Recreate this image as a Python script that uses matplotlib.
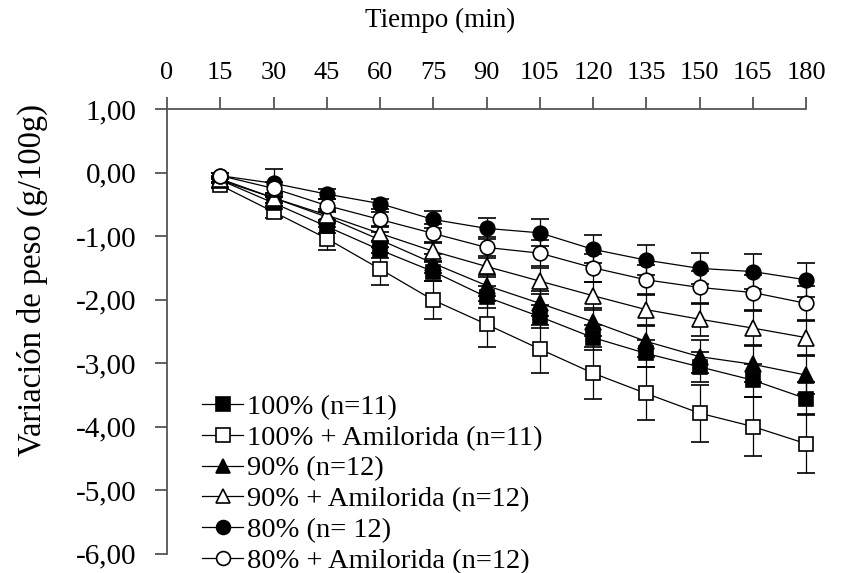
import matplotlib
matplotlib.use("Agg")
import matplotlib.pyplot as plt
from matplotlib.ticker import FuncFormatter
from matplotlib.lines import Line2D

plt.rcParams['font.family'] = ['Liberation Serif', 'DejaVu Serif']

tiempo = [15, 30, 45, 60, 75, 90, 105, 120, 135, 150, 165, 180]
x_ticks = [0, 15, 30, 45, 60, 75, 90, 105, 120, 135, 150, 165, 180]
y_ticks = [1, 0, -1, -2, -3, -4, -5, -6]

labels = ["100% (n=11)", "100% + Amilorida (n=11)", "90% (n=12)",
          "90% + Amilorida (n=12)", "80% (n= 12)", "80% + Amilorida (n=12)"]

p100 = [-0.12, -0.48, -0.85, -1.22, -1.56, -1.96, -2.27, -2.60, -2.85, -3.06, -3.27, -3.56]
p100_am = [-0.20, -0.62, -1.04, -1.52, -2.01, -2.39, -2.78, -3.16, -3.48, -3.79, -4.00, -4.27]
p90 = [-0.12, -0.40, -0.70, -1.06, -1.43, -1.78, -2.06, -2.35, -2.66, -2.90, -3.02, -3.19]
p90_am = [-0.10, -0.40, -0.67, -0.96, -1.24, -1.48, -1.71, -1.94, -2.16, -2.31, -2.45, -2.60]
p80 = [-0.05, -0.17, -0.34, -0.49, -0.74, -0.88, -0.95, -1.21, -1.38, -1.51, -1.56, -1.69]
p80_am = [-0.05, -0.25, -0.52, -0.74, -0.96, -1.18, -1.27, -1.50, -1.69, -1.81, -1.89, -2.06]

e100 = [0.05, 0.10, 0.10, 0.12, 0.15, 0.17, 0.18, 0.20, 0.22, 0.24, 0.26, 0.26]
e100_am = [0.05, 0.10, 0.18, 0.25, 0.30, 0.36, 0.38, 0.41, 0.42, 0.45, 0.46, 0.46]
e90 = [0.05, 0.08, 0.10, 0.12, 0.15, 0.17, 0.20, 0.22, 0.24, 0.26, 0.28, 0.30]
e90_am = [0.05, 0.08, 0.10, 0.12, 0.15, 0.17, 0.20, 0.22, 0.24, 0.26, 0.27, 0.27]
e80 = [0.05, 0.22, 0.08, 0.08, 0.13, 0.17, 0.21, 0.22, 0.24, 0.25, 0.27, 0.27]
e80_am = [0.05, 0.10, 0.10, 0.12, 0.15, 0.17, 0.20, 0.22, 0.24, 0.26, 0.27, 0.28]

series = [
    (p100, e100, 's', 'black', 4),
    (p100_am, e100_am, 's', 'white', 3),
    (p90, e90, '^', 'black', 5),
    (p90_am, e90_am, '^', 'white', 6),
    (p80, e80, 'o', 'black', 7),
    (p80_am, e80_am, 'o', 'white', 8),
]

fig = plt.figure(figsize=(8.41, 5.73), dpi=100)
ax = fig.add_axes([167/841, 1-553.5/573, (806-167)/841, (553.5-109)/573])

handles = []
for (vals, errs, mk, fc, z), lab in zip(series, labels):
    ms = 10.5 if mk != '^' else 11
    eb = ax.errorbar(tiempo, vals, yerr=errs, fmt='-', color='black', lw=0.9,
                     marker=mk, markersize=ms,
                     markerfacecolor=fc, markeredgecolor='black', markeredgewidth=1.2,
                     ecolor='black', elinewidth=0.9, capsize=6.5, capthick=0.9,
                     zorder=z)
    eb[0].set_clip_on(False)
    for c in eb[1]:
        c.set_clip_on(False)
    for b in eb[2]:
        b.set_clip_on(False)
    handles.append(Line2D([], [], color='black', lw=0.9, marker=mk,
                          markersize=ms * 0.95, markerfacecolor=fc,
                          markeredgecolor='black', markeredgewidth=1.2))

ax.set_xlim(0, 180)
ax.set_ylim(-6, 1)
ax.set_xticks(x_ticks)
ax.set_yticks(y_ticks)
ax.yaxis.set_major_formatter(FuncFormatter(lambda v, p: f"{abs(v):.2f}".replace('.', ',') if abs(v) < 1e-9 else f"{v:.2f}".replace('.', ',')))

ax.xaxis.tick_top()
ax.xaxis.set_label_position('top')
ax.set_xlabel("Tiempo (min)", fontsize=19.5)
ax.xaxis.set_label_coords((440 - 167) / 639, 1 + (109 - 20) / 444.5)
ax.xaxis.label.set_va('center')
ax.set_ylabel("Variación de peso (g/100g)", fontsize=23.5)
ax.yaxis.set_label_coords((32 - 167) / 639, 1 - (280 - 109) / 444.5)
ax.yaxis.label.set_va('center')

for s in ['right', 'bottom']:
    ax.spines[s].set_visible(False)
for s in ['top', 'left']:
    ax.spines[s].set_color('#555555')
    ax.spines[s].set_linewidth(1.3)
ax.tick_params(axis='both', direction='out', color='#555555', width=1.3,
               length=9)
ax.tick_params(axis='x', labelsize=19, pad=9)
ax.tick_params(axis='y', labelsize=21, pad=13)

leg = ax.legend(handles=handles, labels=labels, loc='upper left',
                bbox_to_anchor=((202 - 167) / 639, 1 - (394 - 109) / 444.5),
                frameon=False, fontsize=20.5,
                handlelength=1.45, handletextpad=0.12, labelspacing=0.17,
                borderpad=0, borderaxespad=0)

fig.savefig("out.png", dpi=100)
